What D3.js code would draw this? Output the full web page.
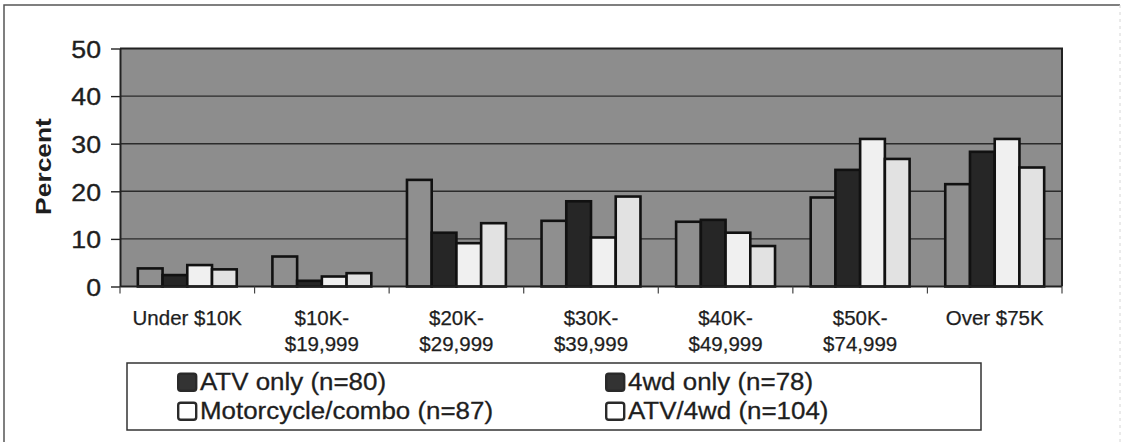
<!DOCTYPE html>
<html>
<head>
<meta charset="utf-8">
<script src="https://cdn.jsdelivr.net/npm/d3@7/dist/d3.min.js"></script>
<style>
  html, body { margin: 0; padding: 0; background: #fff; }
  svg { display: block; }
  svg text { font-family: "Liberation Sans", Arial, Helvetica, sans-serif; }
</style>
</head>
<body>
<svg id="chart" width="1125" height="442"></svg>
<script>
// Household income brackets
const categories = [
  ["Under $10K"],
  ["$10K-", "$19,999"],
  ["$20K-", "$29,999"],
  ["$30K-", "$39,999"],
  ["$40K-", "$49,999"],
  ["$50K-", "$74,999"],
  ["Over $75K"]
];

// Rider groups
const seriesNames = [
  "ATV only (n=80)",
  "4wd only (n=78)",
  "Motorcycle/combo (n=87)",
  "ATV/4wd (n=104)"
];

// Percent of each group falling in each income bracket
const atvOnly   = [3.8, 6.3, 22.4, 13.8, 13.6, 18.7, 21.5];
const fwdOnly   = [2.4, 1.2, 11.3, 17.9, 14.0, 24.5, 28.3];
const motoCombo = [4.5, 2.1,  9.1, 10.3, 11.3, 31.0, 31.0];
const atvFwd    = [3.6, 2.8, 13.3, 18.9,  8.5, 26.8, 25.0];

const yTicks = [0, 10, 20, 30, 40, 50];

const seriesValues = [atvOnly, fwdOnly, motoCombo, atvFwd];
const barFill    = ["#8f8f8f", "#262626", "#f0f0f0", "#e2e2e2"];
const swatchFill = ["#333333", "#333333", "#ffffff", "#ffffff"];
const FONT = '"Liberation Sans", Arial, Helvetica, sans-serif';
const INK = "#1e1e1e";

const svg = d3.select("#chart");

// outer frame of the figure
svg.append("path")
  .attr("d", "M4,445 V5 H1120")
  .attr("fill", "none").attr("stroke", "#555").attr("stroke-width", 1.5);
svg.append("line")
  .attr("x1", 1120).attr("x2", 1120).attr("y1", 5).attr("y2", 445)
  .attr("stroke", "#d6d6d6").attr("stroke-width", 1).attr("stroke-dasharray", "3,4");

const plot = { left: 120, right: 1062, top: 48.5, bottom: 286.5 };

const x0 = d3.scaleBand()
  .domain(d3.range(categories.length))
  .range([plot.left, plot.right])
  .paddingInner(0.265)
  .paddingOuter(0.1325);

const x1 = d3.scaleBand()
  .domain(d3.range(seriesNames.length))
  .range([0, x0.bandwidth()])
  .padding(0);

const y = d3.scaleLinear().domain([0, 50]).range([plot.bottom, plot.top]);

// plot background
svg.append("rect")
  .attr("x", plot.left).attr("y", plot.top)
  .attr("width", plot.right - plot.left).attr("height", plot.bottom - plot.top)
  .attr("fill", "#8d8d8d");

// horizontal gridlines
svg.append("g").selectAll("line")
  .data(yTicks.filter(d => d > 0 && d < 50))
  .join("line")
  .attr("x1", plot.left).attr("x2", plot.right)
  .attr("y1", d => y(d)).attr("y2", d => y(d))
  .attr("stroke", "#2b2b2b").attr("stroke-width", 1.4);

// top and right frame of the plot area
svg.append("path")
  .attr("d", `M${plot.left},${y(50)} H${plot.right} V${y(0)}`)
  .attr("fill", "none").attr("stroke", "#222").attr("stroke-width", 2);

// bars
const groups = svg.append("g").selectAll("g")
  .data(categories.map((c, i) => i))
  .join("g")
  .attr("transform", i => `translate(${x0(i)},0)`);

groups.selectAll("rect")
  .data(i => seriesValues.map((vals, s) => ({ s, v: vals[i] })))
  .join("rect")
  .attr("x", d => x1(d.s))
  .attr("y", d => y(d.v))
  .attr("width", x1.bandwidth())
  .attr("height", d => y(0) - y(d.v))
  .attr("fill", d => barFill[d.s])
  .attr("stroke", "#111")
  .attr("stroke-width", 2.6);

// y axis
const yAxis = svg.append("g")
  .attr("transform", `translate(${plot.left},0)`)
  .call(d3.axisLeft(y).tickValues(yTicks).tickSize(9).tickSizeOuter(0).tickPadding(0));
yAxis.attr("font-family", FONT).attr("font-size", null);
yAxis.select(".domain").attr("stroke", "#222").attr("stroke-width", 2);
yAxis.selectAll(".tick line").attr("stroke", "#222").attr("stroke-width", 1.4);
yAxis.selectAll(".tick text")
  .attr("x", 0).attr("dy", "0.38em")
  .attr("transform", "translate(-19,0) scale(1.16,1)")
  .attr("fill", INK)
  .attr("stroke", INK).attr("stroke-width", 0.35)
  .style("font-family", FONT)
  .style("font-size", "23px");

// x axis with ticks between categories
const xAxisG = svg.append("g");
xAxisG.append("line")
  .attr("x1", plot.left).attr("x2", plot.right)
  .attr("y1", y(0)).attr("y2", y(0))
  .attr("stroke", "#222").attr("stroke-width", 2);
const step = x0.step();
xAxisG.selectAll("line.sep")
  .data(d3.range(categories.length + 1))
  .join("line")
  .attr("class", "sep")
  .attr("x1", i => plot.left + i * step).attr("x2", i => plot.left + i * step)
  .attr("y1", y(0)).attr("y2", y(0) + 7)
  .attr("stroke", "#444").attr("stroke-width", 1.2);

// category labels
const catLabels = svg.append("g").selectAll("text")
  .data(categories)
  .join("text")
  .attr("x", (d, i) => x0(i) + x0.bandwidth() / 2)
  .attr("y", 325)
  .attr("text-anchor", "middle")
  .attr("fill", INK)
  .attr("stroke", INK).attr("stroke-width", 0.25)
  .style("font-family", FONT)
  .style("font-size", "20.5px");
catLabels.selectAll("tspan")
  .data(d => d)
  .join("tspan")
  .attr("x", function () { return this.parentNode.getAttribute("x"); })
  .attr("dy", (d, k) => k === 0 ? 0 : 26)
  .text(d => d);

// y axis title
svg.append("text")
  .attr("transform", "translate(51,166.5) rotate(-90) scale(1.2,1)")
  .attr("text-anchor", "middle")
  .attr("fill", INK)
  .style("font-family", FONT)
  .style("font-size", "22px")
  .style("font-weight", "bold")
  .text("Percent");

// legend
const legend = svg.append("g");
legend.append("rect")
  .attr("x", 127).attr("y", 363).attr("width", 854).attr("height", 67)
  .attr("fill", "#fff").attr("stroke", "#333").attr("stroke-width", 1.5);

const legendCol = [177, 605];
const legendRow = [372.5, 401.5];
const items = legend.selectAll("g.item")
  .data(seriesNames)
  .join("g")
  .attr("class", "item")
  .attr("transform", (d, i) => `translate(${legendCol[i % 2]},${legendRow[Math.floor(i / 2)]})`);
items.append("rect")
  .attr("x", 1.2).attr("y", 1.2).attr("width", 18).attr("height", 17)
  .attr("rx", 2.5)
  .attr("fill", (d, i) => swatchFill[i])
  .attr("stroke", "#2a2a2a").attr("stroke-width", 2.4);
items.append("text")
  .attr("transform", "translate(23,17) scale(1.08,1)")
  .attr("fill", INK)
  .attr("stroke", INK).attr("stroke-width", 0.3)
  .style("font-family", FONT)
  .style("font-size", "24px")
  .text(d => d);
</script>
</body>
</html>
